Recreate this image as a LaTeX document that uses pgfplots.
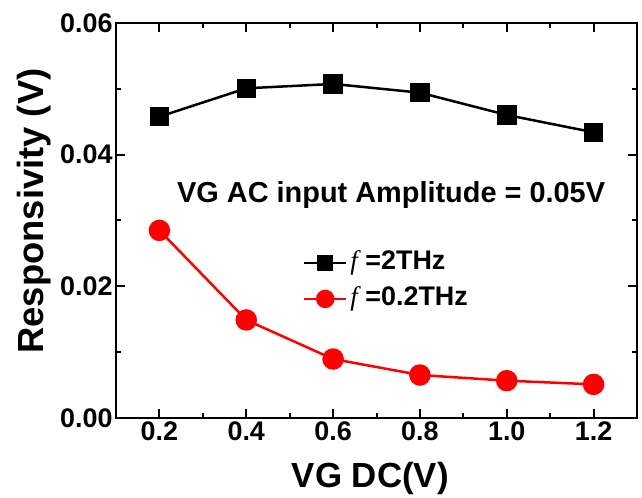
\documentclass[border=0pt]{standalone}
\usepackage{fontspec}
\setmainfont{Liberation Sans}
\newfontfamily\timesfont{Liberation Serif}
\usepackage{pgfplots}
\pgfplotsset{compat=1.18}

\pgfplotstableread{
x y
0.2 0.04577
0.4 0.05008
0.6 0.05074
0.8 0.04942
1.0 0.04603
1.2 0.04340
}\twothz

\pgfplotstableread{
x y
0.2 0.02850
0.4 0.01489
0.6 0.00896
0.8 0.00653
1.0 0.00567
1.2 0.00511
}\ptwothz

\begin{document}
\begin{tikzpicture}
\begin{axis}[
    name=ax,
    scale only axis,
    width=521bp, height=395bp,
    xmin=0.1, xmax=1.3,
    ymin=0, ymax=0.06,
    xtick={0.2,0.4,...,1.21},
    ytick={0,0.02,0.04,0.06},
    minor x tick num=1,
    minor y tick num=1,
    tick align=inside,
    major tick length=9bp,
    minor tick length=5bp,
    tick style={line width=2bp, black},
    axis line style={line width=2.5bp},
    x tick label style={/pgf/number format/.cd, fixed, fixed zerofill, precision=1},
    y tick label style={/pgf/number format/.cd, fixed, fixed zerofill, precision=2},
    /pgf/number format/assume math mode=true,
    tick label style={font=\fontsize{27}{30}\selectfont\bfseries},
    scaled y ticks=false,
    xlabel={VG DC(V)},
    ylabel={Responsivity (V)},
    xlabel style={font=\fontsize{35}{40}\selectfont\bfseries,
        at={(axis description cs:0.488,-0.1747)}, anchor=base},
    ylabel style={font=\fontsize{36.5}{40}\selectfont\bfseries,
        at={(axis description cs:-0.1401,0.524)}, anchor=base, rotate=0},
    legend style={draw=none, fill=none, inner sep=0pt, outer sep=0pt,
        at={(axis cs:0.5307,0.02553)}, anchor=north west,
        font=\fontsize{27}{30}\selectfont\bfseries, row sep=10bp,
        nodes={inner sep=0pt, text height=20bp, text depth=6bp}},
    legend cell align=left,
    legend image code/.code={
        \draw[mark repeat=2, mark phase=2, #1]
            plot coordinates {(0bp,0bp) (21bp,0bp) (42bp,0bp)};
        \path (45bp,0bp);
    },
    clip=false,
]
\addplot[black, line width=2.5bp, mark=square*, mark size=8.5bp, forget plot] table[x=x,y=y] {\twothz};
\addplot[red, line width=2.5bp, mark=*, mark size=9.5bp, forget plot] table[x=x,y=y] {\ptwothz};
\addlegendimage{black, line width=2.5bp, mark=square*, mark size=6.5bp}
\addlegendentry{{\timesfont\itshape\mdseries f} =2THz}
\addlegendimage{red, line width=2.5bp, mark=*, mark size=8bp}
\addlegendentry{{\timesfont\itshape\mdseries f} =0.2THz}
\node[anchor=base west, inner sep=0pt, font=\fontsize{29}{32}\selectfont\bfseries] at (axis cs:0.2405,0.03266) {VG AC input Amplitude = 0.05V};
\end{axis}
\pgfresetboundingbox
\path[use as bounding box] ([xshift=-116bp,yshift=-80bp]ax.south west) rectangle ([xshift=5bp,yshift=23bp]ax.north east);
\end{tikzpicture}
\end{document}
